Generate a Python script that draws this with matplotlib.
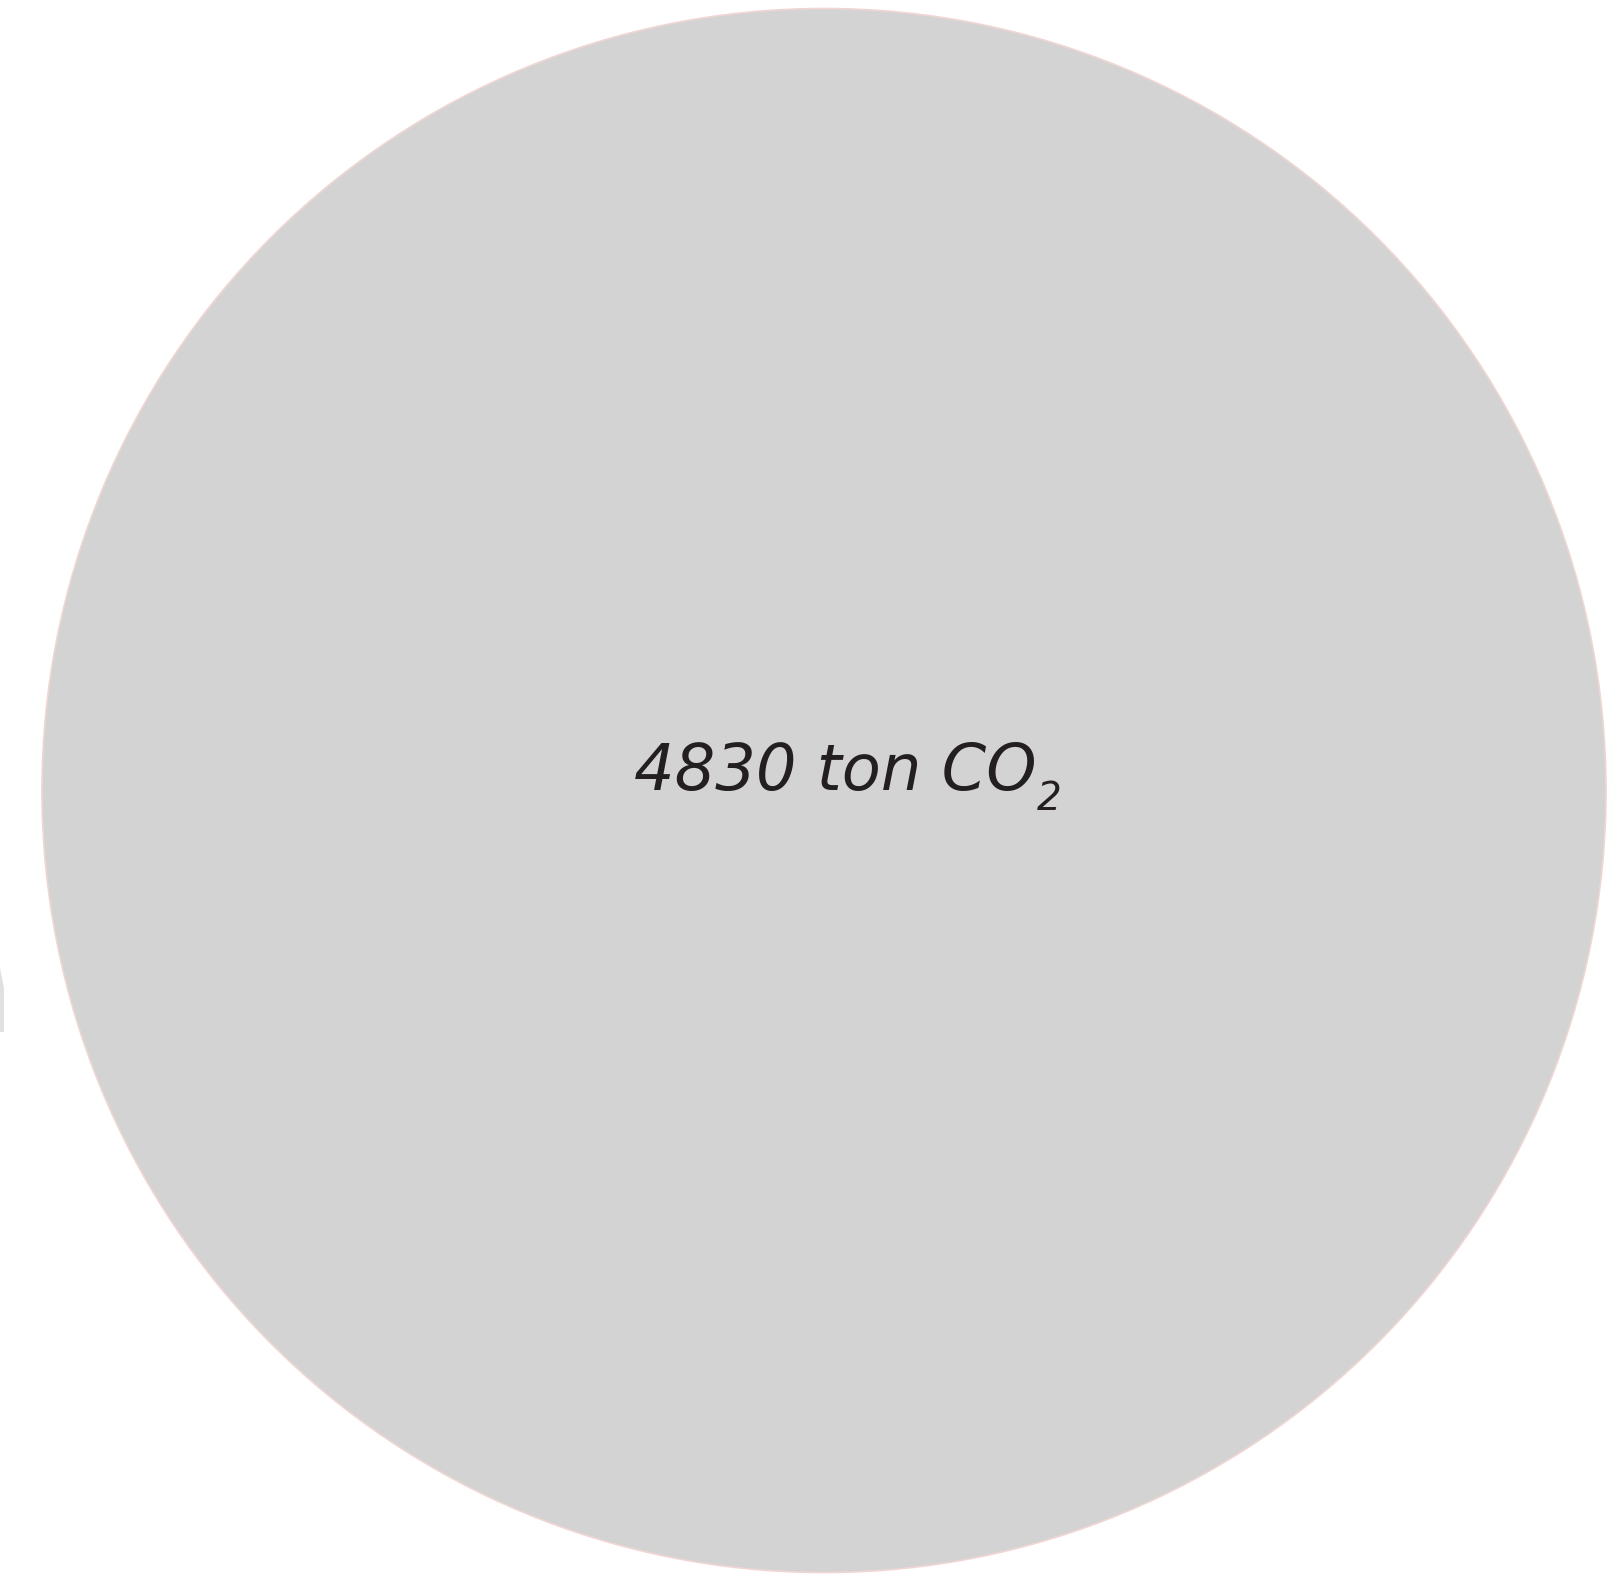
import numpy as np
import matplotlib.pyplot as plt
from matplotlib.patches import Circle, Polygon

# bubble data
labels = ["4830 ton CO"]
values = [4830]
subscripts = ["2"]

W, H = 1624, 1580
fig = plt.figure(figsize=(W / 100, H / 100), dpi=100)
fig.patch.set_facecolor("white")
ax = fig.add_axes([0, 0, 1, 1])

# one data unit = sqrt(value) radius; pixel scale picked so bubble fills the frame
r = np.sqrt(values[0])
px = 782 / r
cx, cy = 824, 790.5
ax.set_xlim(-cx / px, (W - cx) / px)
ax.set_ylim(-(H - cy) / px, cy / px)
ax.set_aspect("equal")
ax.axis("off")

for v, lab, sub in zip(values, labels, subscripts):
    rad = np.sqrt(v)
    ax.add_patch(Circle((0, 0), rad, facecolor="#d3d3d3", edgecolor="#efd6d3", lw=1.2))
    t = ax.text(0.015 * rad, 0, lab, ha="center", va="baseline", fontsize=46,
                style="italic", family="DejaVu Sans", color="#231f20")
    ax.annotate(sub, xy=(1, 0), xycoords=t, xytext=(0, -5), textcoords="offset points",
                ha="left", va="baseline", fontsize=28, style="italic",
                family="DejaVu Sans", color="#231f20")

# sliver of a neighbouring shape cut off at the left edge
x0 = -cx / px
ax.add_patch(Polygon([(x0, (cy - 968) / px), (x0 + 4 / px, (cy - 988) / px),
                      (x0 + 4 / px, (cy - 1032) / px), (x0, (cy - 1032) / px)],
                     closed=True, facecolor="#e0e0e0", edgecolor="none"))

fig.savefig("out.png", dpi=100, facecolor=fig.get_facecolor())
